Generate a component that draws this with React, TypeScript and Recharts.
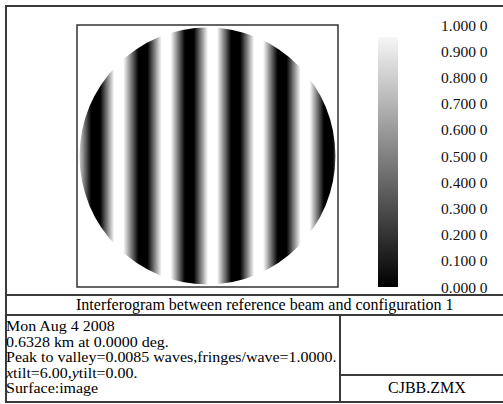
import { ComposedChart, BarChart, Bar, XAxis, YAxis, ReferenceArea } from "recharts"

// fringe centres across the pupil, normalised pupil x (-1 .. 1)
const darkFringes = [-0.874, -0.504, -0.142, 0.22, 0.583, 0.945]
const brightFringes = [-0.693, -0.323, 0.039, 0.4, 0.764]
const edgeLevels = [0.8, 0.3] // intensity at x = -1 and x = +1

const scaleTicks = [0, 0.1, 0.2, 0.3, 0.4, 0.5, 0.6, 0.7, 0.8, 0.9, 1]
const scaleBar = [{ name: "intensity", top: 0.954 }]

const infoLines = [
  "Mon Aug 4 2008",
  "0.6328 km at 0.0000 deg.",
  "Peak to valley=0.0085 waves,fringes/wave=1.0000.",
]
const title = "Interferogram between reference beam and configuration 1"
const fileName = "CJBB.ZMX"

const serif = "'Liberation Serif', 'Times New Roman', serif"
const lineColor = "#3a3a3a"
const plateau = 0.035

const gray = (v: number) => {
  const c = Math.round(v * 255)
  return `rgb(${c},${c},${c})`
}

function fringeStops() {
  const pts: { pos: number; level: number }[] = []
  darkFringes.forEach((p) => pts.push({ pos: p, level: 0 }))
  brightFringes.forEach((p) => pts.push({ pos: p, level: 1 }))
  pts.sort((a, b) => a.pos - b.pos)
  const stops: { offset: number; level: number }[] = [{ offset: 0, level: edgeLevels[0] }]
  pts.forEach((p) => {
    stops.push({ offset: Math.max(0, (p.pos - plateau + 1) / 2), level: p.level })
    stops.push({ offset: Math.min(1, (p.pos + plateau + 1) / 2), level: p.level })
  })
  stops.push({ offset: 1, level: edgeLevels[1] })
  return stops
}

const Pupil = (props: any) => {
  const { x, y, width, height } = props
  return <ellipse cx={x + width / 2} cy={y + height / 2} rx={width / 2} ry={height / 2} fill="url(#fringes)" />
}

const hLine = (top: number, left: number, width: number) => (
  <div style={{ position: "absolute", top, left, width, height: 2, background: lineColor }} />
)
const vLine = (left: number, top: number, height: number) => (
  <div style={{ position: "absolute", top, left, width: 2, height, background: lineColor }} />
)

export default function App() {
  const stops = fringeStops()
  return (
    <div style={{ position: "absolute", left: 0, top: 0, width: 503, height: 404, background: "#fff", fontFamily: serif, overflow: "hidden", color: "#000" }}>
      <div style={{ position: "absolute", left: 0, top: 0 }}>
        <ComposedChart width={503} height={295} margin={{ top: 25, left: 77, right: 165, bottom: 8 }} data={[]}>
          <defs>
            <linearGradient id="fringes" x1="0" y1="0" x2="1" y2="0">
              {stops.map((s, i) => (
                <stop key={i} offset={s.offset} stopColor={gray(s.level)} />
              ))}
            </linearGradient>
          </defs>
          <XAxis type="number" dataKey="x" domain={[-1.02, 1.02]} hide allowDataOverflow />
          <YAxis type="number" dataKey="y" domain={[-1.02, 1.02]} hide allowDataOverflow />
          <ReferenceArea x1={-1} x2={1} y1={-1} y2={1} shape={Pupil} ifOverflow="visible" />
          <ReferenceArea x1={-1.02} x2={1.02} y1={-1.02} y2={1.02} fill="none" fillOpacity={0} stroke="#333" strokeWidth={1.5} ifOverflow="visible" />
        </ComposedChart>
      </div>
      <div style={{ position: "absolute", left: 360, top: 0 }}>
        <BarChart width={143} height={295} data={scaleBar} margin={{ top: 25, left: 18, right: 0, bottom: 8 }} barCategoryGap={0}>
          <defs>
            <linearGradient id="scale" x1="0" y1="1" x2="0" y2="0">
              <stop offset={0} stopColor="#000" />
              <stop offset={1} stopColor="#f6f6f6" />
            </linearGradient>
          </defs>
          <XAxis dataKey="name" hide />
          <YAxis
            orientation="right"
            domain={[0, 1]}
            ticks={scaleTicks}
            width={105}
            axisLine={false}
            tickLine={false}
            tickSize={0}
            tickMargin={43}
            interval={0}
            tickFormatter={(v: number) => v.toFixed(3) + " 0"}
            tick={{ fill: "#111", fontSize: 15.5, fontFamily: serif }}
          />
          <Bar dataKey="top" fill="url(#scale)" isAnimationActive={false} />
        </BarChart>
      </div>

      {hLine(5, 5, 498)}
      {vLine(5, 5, 398)}
      {hLine(294, 5, 498)}
      {hLine(314, 5, 498)}
      {hLine(401, 5, 498)}
      {vLine(339, 315, 87)}
      {hLine(374, 340, 163)}

      <div style={{ position: "absolute", left: 76, top: 296, fontSize: 16, lineHeight: "18px", whiteSpace: "nowrap" }}>{title}</div>
      <div
        style={{
          position: "absolute",
          left: 6,
          top: 319,
          fontSize: 14,
          lineHeight: "15.5px",
          whiteSpace: "nowrap",
          transform: "scaleX(1.14)",
          transformOrigin: "left top",
        }}
      >
        {infoLines.map((l) => (
          <div key={l}>{l}</div>
        ))}
        <div>
          <i>x</i>tilt=6.00,<i>y</i>tilt=0.00.
        </div>
        <div>Surface:image</div>
      </div>
      <div style={{ position: "absolute", left: 388, top: 379, fontSize: 16, lineHeight: "18px", whiteSpace: "nowrap" }}>{fileName}</div>
    </div>
  )
}
